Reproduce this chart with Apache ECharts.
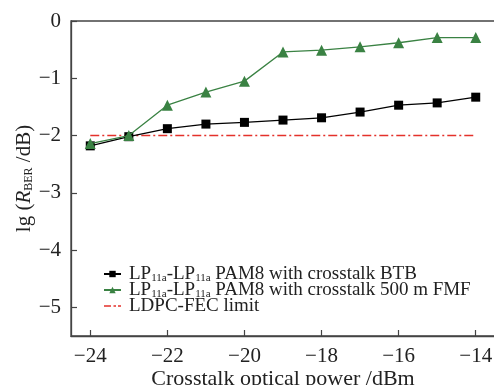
<!DOCTYPE html>
<html>
<head>
<meta charset="utf-8">
<script src="https://cdn.jsdelivr.net/npm/echarts@6/dist/echarts.min.js"></script>
<style>
  html, body { margin: 0; padding: 0; background: #fff; }
  #chart { width: 494px; height: 385px; }
</style>
</head>
<body>
<div id="chart"></div>
<script>
// crosstalk optical power (dBm)
var power = [-24, -23, -22, -21, -20, -19, -18, -17, -16, -15, -14];
// lg(BER) values
var btb = [-2.18, -2.02, -1.88, -1.80, -1.77, -1.73, -1.69, -1.59, -1.47, -1.43, -1.33];
var fmf = [-2.14, -2.00, -1.47, -1.24, -1.05, -0.54, -0.51, -0.45, -0.38, -0.29, -0.29];
var fecLimit = -2;
var xTicks = [-24, -22, -20, -18, -16, -14];
var yTicks = [0, -1, -2, -3, -4, -5];

var serif = 'Liberation Serif';
var base = { fontFamily: serif, fontSize: 19, color: '#222', lineHeight: 16 };
var sub = { fontFamily: serif, fontSize: 11, color: '#222', lineHeight: 7, padding: [9, 0, 0, 0] };

// short dash-dot legend mark (two tiny corner points keep the 17x8 box)
var dashDotIcon = 'path://M0,0L0.05,0L0,0.05Z M17,8L16.95,8L17,7.95Z ' +
    'M0,3.3h7v1.5h-7Z M9.5,3.3h2.5v1.5h-2.5Z M14,3.3h3v1.5h-3Z';

var myChart = echarts.init(document.getElementById('chart'));

function pairs(vals) {
    var out = [];
    for (var i = 0; i < power.length; i++) {
        out.push([power[i], vals[i]]);
    }
    return out;
}

function minus(v) {
    return String(v).replace('-', '\u2212');
}

var option = {
    animation: false,
    backgroundColor: '#fff',
    grid: {
        show: true,
        left: 71,
        top: 21,
        right: -1,
        bottom: 49,
        outerBoundsMode: 'none',
        containLabel: false,
        borderColor: '#444',
        borderWidth: 1.3
    },
    legend: {
        orient: 'vertical',
        left: 98,
        top: 259,
        itemWidth: 17,
        itemHeight: 8,
        itemGap: -4,
        data: [
            { name: 'BTB' },
            { name: 'FMF' },
            { name: 'FEC', icon: dashDotIcon }
        ],
        formatter: function (name) {
            if (name === 'BTB') return '{a|LP}{s|11a}{a|-LP}{s|11a}{a| PAM8 with crosstalk BTB}';
            if (name === 'FMF') return '{a|LP}{s|11a}{a|-LP}{s|11a}{a| PAM8 with crosstalk 500 m FMF}';
            return '{a|LDPC-FEC limit}{s| }';
        },
        textStyle: {
            padding: [0, 0, 0, 3],
            rich: { a: base, s: sub }
        }
    },
    xAxis: {
        type: 'value',
        min: -24.5,
        max: -13.5,
        interval: 1,
        name: 'Crosstalk optical power /dBm',
        nameLocation: 'middle',
        nameGap: 32,
        nameMoveOverlap: false,
        nameTextStyle: { fontFamily: serif, fontSize: 22, color: '#222' },
        axisLine: { onZero: false, lineStyle: { color: '#444', width: 1.3 } },
        axisTick: {
            inside: true,
            length: 6,
            lineStyle: { color: '#444', width: 1.2 },
            customValues: xTicks
        },
        axisLabel: {
            fontFamily: serif,
            fontSize: 21,
            color: '#222',
            margin: 10,
            customValues: xTicks,
            formatter: minus
        },
        splitLine: { show: false }
    },
    yAxis: {
        type: 'value',
        min: -5.5,
        max: 0,
        interval: 0.5,
        name: '{a|lg (}{i|R}{s|BER}{a| /dB)}',
        nameLocation: 'middle',
        nameRotate: 90,
        nameGap: 36,
        nameMoveOverlap: false,
        nameTextStyle: {
            rich: {
                a: { fontFamily: serif, fontSize: 21, color: '#222' },
                i: { fontFamily: serif, fontSize: 21, fontStyle: 'italic', color: '#222' },
                s: { fontFamily: serif, fontSize: 12, color: '#222', padding: [10, 0, 0, 0] }
            }
        },
        axisLine: { show: true, onZero: false, lineStyle: { color: '#444', width: 1.3 } },
        axisTick: {
            inside: true,
            length: 6,
            lineStyle: { color: '#444', width: 1.2 },
            customValues: yTicks
        },
        axisLabel: {
            fontFamily: serif,
            fontSize: 21,
            color: '#222',
            margin: 10,
            customValues: yTicks,
            formatter: minus
        },
        splitLine: { show: false }
    },
    series: [
        {
            name: 'BTB',
            type: 'line',
            data: pairs(btb),
            symbol: 'rect',
            symbolSize: 9,
            color: '#000',
            lineStyle: { color: '#000', width: 1.3 },
            z: 3
        },
        {
            name: 'FMF',
            type: 'line',
            data: pairs(fmf),
            symbol: 'triangle',
            symbolSize: 11,
            color: '#3a8243',
            lineStyle: { color: '#3a8243', width: 1.3 },
            z: 4
        },
        {
            name: 'FEC',
            type: 'line',
            data: [[power[0], fecLimit], [power[power.length - 1], fecLimit]],
            symbol: 'none',
            color: '#e4312b',
            lineStyle: { color: '#e4312b', width: 1.5, type: [9, 3, 2, 3] },
            z: 2
        }
    ]
};

myChart.setOption(option);
</script>
</body>
</html>
